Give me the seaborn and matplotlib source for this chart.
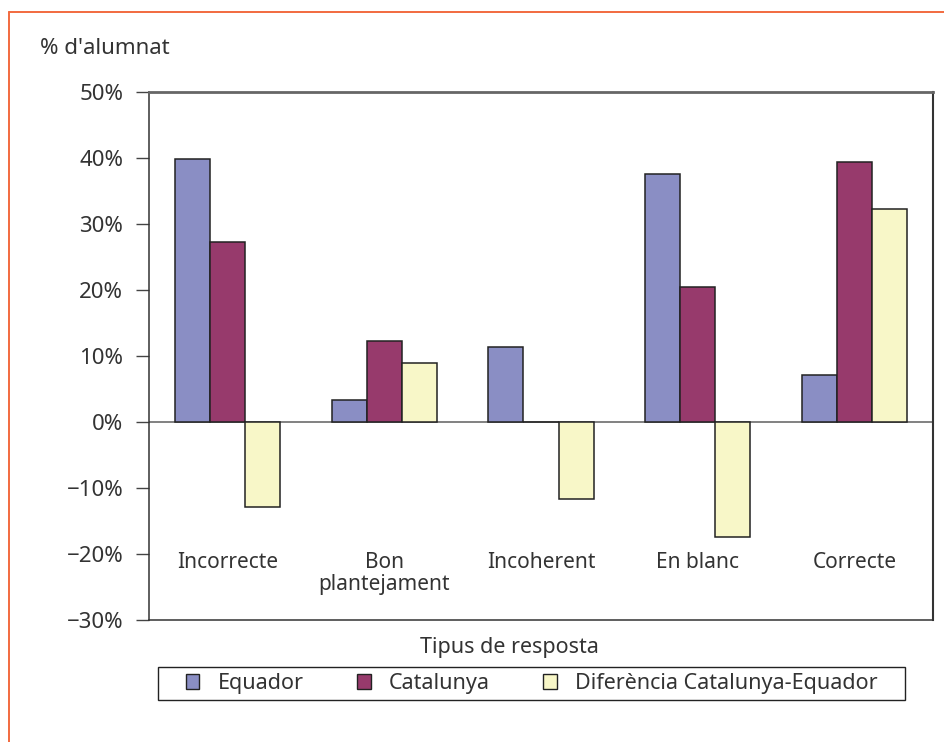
import matplotlib
matplotlib.use("Agg")
import matplotlib.pyplot as plt
import seaborn as sns
import pandas as pd
from matplotlib.patches import Rectangle
from matplotlib.lines import Line2D

categories = ["Incorrecte", "Bon\nplantejament", "Incoherent", "En blanc", "Correcte"]
series = ["Equador", "Catalunya", "Diferència Catalunya-Equador"]
equador = [39.8, 3.4, 11.4, 37.5, 7.1]
catalunya = [27.2, 12.3, 0.0, 20.4, 39.4]
diferencia = [-12.9, 9.0, -11.7, -17.4, 32.3]
yticks = [-30, -20, -10, 0, 10, 20, 30, 40, 50]
colors = ["#8a8ec4", "#973a6c", "#f8f7c8"]

rows = []
for s, vals in zip(series, [equador, catalunya, diferencia]):
    for c, v in zip(categories, vals):
        rows.append({"cat": c, "serie": s, "val": v})
df = pd.DataFrame(rows)

sns.set_theme(style="white")
plt.rcParams["font.family"] = ["Noto Sans", "DejaVu Sans"]
TXT = "#333333"
FS_CAT = 15
FS_TICK = 16
FS_LAB = 15.5

W, H = 944, 742
fig = plt.figure(figsize=(W / 100, H / 100), dpi=100)
ax = fig.add_axes([149 / W, 1 - 620 / H, (933 - 149) / W, (620 - 92) / H])

sns.barplot(data=df, x="cat", y="val", hue="serie", order=categories, hue_order=series,
            palette=colors, width=0.67, gap=0, edgecolor="#222222", linewidth=1.1,
            saturation=1, ax=ax)
handles, labels = ax.get_legend_handles_labels()
ax.get_legend().remove()

ax.set_ylim(-30, 50)
ax.set_xlim(-0.5, len(categories) - 0.5)
ax.set_yticks(yticks)
ax.set_yticklabels([(f"\u2212{abs(t)}%" if t < 0 else f"{t}%") for t in yticks],
                   fontsize=FS_TICK, color=TXT)
ax.tick_params(axis="y", left=True, length=9.5, width=1, color="#444444", pad=9)
ax.set_xticks([])
ax.set_xlabel("")
ax.set_ylabel("")
ax.axhline(0, color="#777777", lw=1.3, zorder=0.5)

for side in ["left", "right", "bottom"]:
    ax.spines[side].set_color("#333333")
    ax.spines[side].set_linewidth(1.1)
ax.spines["top"].set_color("#666666")
ax.spines["top"].set_linewidth(2)
ax.spines["right"].set_linewidth(1.5)

for i, c in enumerate(categories):
    ax.text(i, -19.7, c, ha="center", va="top", fontsize=FS_CAT, color=TXT, linespacing=1.08)

fig.text(40 / W, 1 - 48 / H, "% d'alumnat", ha="left", va="center", fontsize=FS_TICK, color=TXT)
fig.text(509 / W, 1 - 647 / H, "Tipus de resposta", ha="center", va="center", fontsize=FS_LAB, color=TXT)

# orange frame
fig.add_artist(Line2D([9 / W, 1.0], [1 - 12 / H, 1 - 12 / H], transform=fig.transFigure,
                      color="#f26a3f", lw=1.4))
fig.add_artist(Line2D([9 / W, 9 / W], [0, 1 - 12 / H], transform=fig.transFigure,
                      color="#f26a3f", lw=1.4))

# legend frame
fig.add_artist(Rectangle((158 / W, 1 - 700 / H), (905 - 158) / W, 33 / H,
                         transform=fig.transFigure, fill=False, edgecolor="#222222", lw=1.0))
leg = fig.legend(handles, labels, ncol=3, loc="center",
                 bbox_to_anchor=(531.5 / W, 1 - 683.5 / H),
                 frameon=False, borderaxespad=0, borderpad=0,
                 handlelength=0.65, handleheight=0.65, handletextpad=0.85,
                 columnspacing=2.45, fontsize=FS_LAB, labelcolor=TXT)
for h in leg.legend_handles:
    h.set_edgecolor("#222222")
    h.set_linewidth(1.0)

fig.savefig("out.png", dpi=100, facecolor="white")
